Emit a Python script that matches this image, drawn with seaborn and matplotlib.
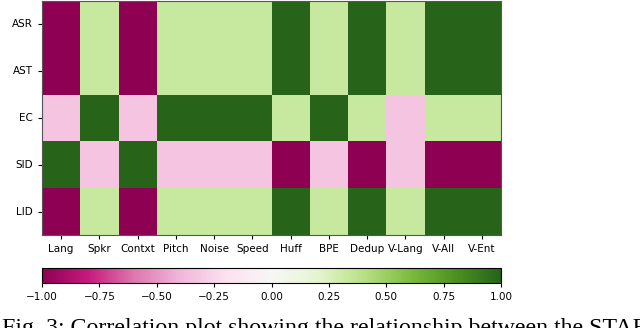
import numpy as np
import pandas as pd
import matplotlib
matplotlib.use("Agg")
import matplotlib.pyplot as plt
import seaborn as sns

# Données
taches = ["ASR", "AST", "EC", "SID", "LID"]
proprietes = ["Lang", "Spkr", "Contxt", "Pitch", "Noise", "Speed",
              "Huff", "BPE", "Dedup", "V-Lang", "V-All", "V-Ent"]
t = 1 / 3
asr = [-1, t, -1, t, t, t, 1, t, 1, t, 1, 1]
ast = [-1, t, -1, t, t, t, 1, t, 1, t, 1, 1]
ec = [-t, 1, -t, 1, 1, 1, t, 1, t, -t, t, t]
sid = [1, -t, 1, -t, -t, -t, -1, -t, -1, -t, -1, -1]
lid = [-1, t, -1, t, t, t, 1, t, 1, t, 1, 1]
graduations = [-1.0, -0.75, -0.5, -0.25, 0.0, 0.25, 0.5, 0.75, 1.0]

df = pd.DataFrame([asr, ast, ec, sid, lid], index=taches, columns=proprietes)

W, H = 640, 328
fig = plt.figure(figsize=(W / 100, H / 100), dpi=100)
ax = fig.add_axes([42 / W, (H - 235) / H, 459 / W, 234 / H])
cax = fig.add_axes([42 / W, (H - 283) / H, 459 / W, 15 / H])

sns.heatmap(df, ax=ax, cmap="PiYG", vmin=-1, vmax=1, cbar_ax=cax,
            cbar_kws={"orientation": "horizontal", "ticks": graduations})

ax.tick_params(axis="both", labelsize=7.5, length=3, width=0.8, color="black")
ax.set_yticklabels(taches, rotation=0)
ax.set_xticklabels(proprietes, rotation=0)
for s in ax.spines.values():
    s.set_visible(True)
    s.set_color("#555555")
    s.set_linewidth(0.8)

cb = ax.collections[0].colorbar
cb.set_ticklabels(["\u2212%.2f" % -g if g < 0 else "%.2f" % g for g in graduations])
cax.tick_params(labelsize=7.5, length=3, width=0.8)
cb.outline.set_visible(True)
cb.outline.set_edgecolor("black")
cb.outline.set_linewidth(0.8)

# Légende de la figure (coupée en bas comme dans l'original)
fig.text(0.003, -0.018, "Fig. 3: Correlation plot showing the relationship between the STAR",
         family="Liberation Serif", fontsize=17.2, va="baseline", ha="left")

fig.savefig("out.png", dpi=100)
